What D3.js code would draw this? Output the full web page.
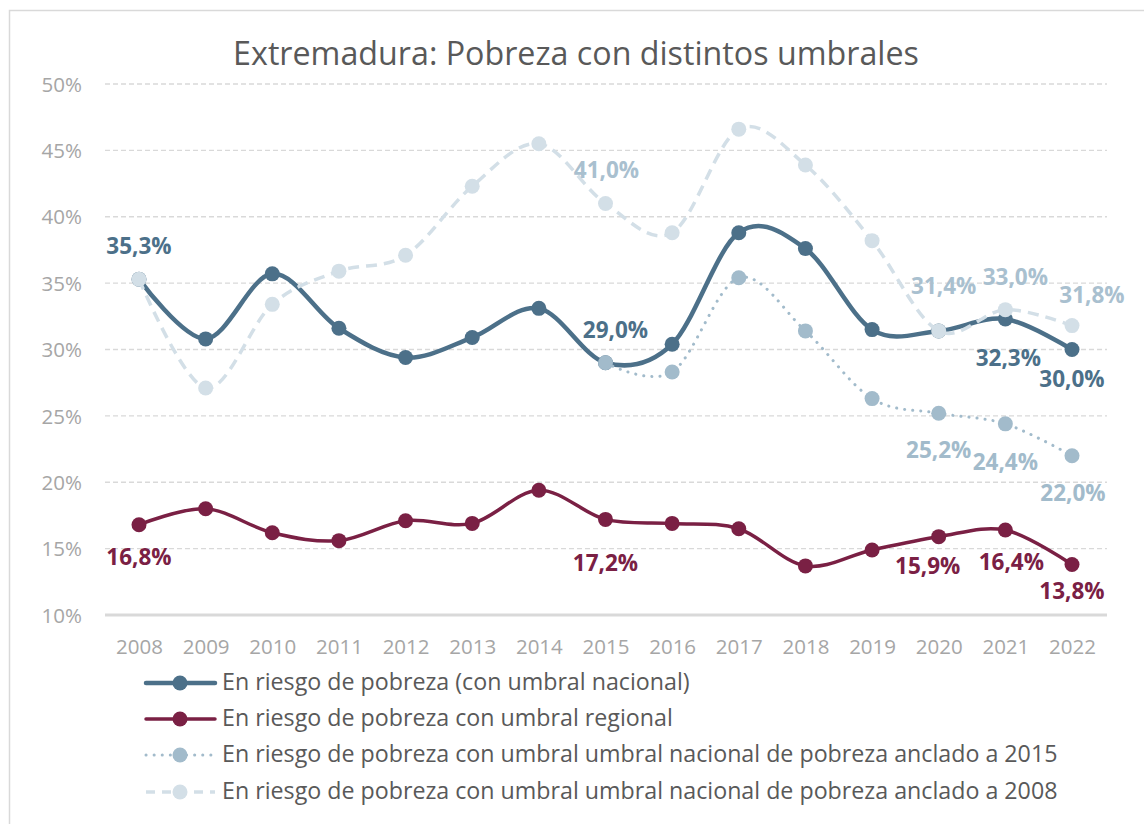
<!DOCTYPE html>
<html><head><meta charset="utf-8">
<script src="https://cdn.jsdelivr.net/npm/d3@7"></script>
<style>
html,body{margin:0;padding:0;background:#fff;}
svg{display:block;font-family:"Open Sans",sans-serif;}
</style></head>
<body>
<svg id="chart" width="1144" height="824"></svg>
<script>
// ---------- DATA ----------
const title = "Extremadura: Pobreza con distintos umbrales";
const years = [2008,2009,2010,2011,2012,2013,2014,2015,2016,2017,2018,2019,2020,2021,2022];
const yTicks = [10,15,20,25,30,35,40,45,50];
const nacional   = [35.3,30.8,35.7,31.6,29.4,30.9,33.1,29.0,30.4,38.8,37.6,31.5,31.4,32.3,30.0];
const regional   = [16.8,18.0,16.2,15.6,17.1,16.9,19.4,17.2,16.9,16.5,13.7,14.9,15.9,16.4,13.8];
const anclado2015= [null,null,null,null,null,null,null,29.0,28.3,35.4,31.4,26.3,25.2,24.4,22.0];
const anclado2008= [35.3,27.1,33.4,35.9,37.1,42.3,45.5,41.0,38.8,46.6,43.9,38.2,31.4,33.0,31.8];
const seriesNames = [
  "En riesgo de pobreza (con umbral nacional)",
  "En riesgo de pobreza con umbral regional",
  "En riesgo de pobreza con umbral umbral nacional de pobreza anclado a 2015",
  "En riesgo de pobreza con umbral umbral nacional de pobreza anclado a 2008"
];
// which points carry a data label
const labelYears = [
  [2008,2015,2021,2022],
  [2008,2015,2020,2021,2022],
  [2020,2021,2022],
  [2015,2020,2021,2022]
];

// ---------- STYLE / LAYOUT ----------
const colors = ["#4C7089","#7A2044","#A2BBCB","#D3DFE7"];
const labelColors = ["#4C7089","#7A2044","#A2BBCB","#A9C0CF"];
const widths = [4.5,3.5,3,3.5];
const dashes = [null,null,"0.1 8","11 7"];
const caps = ["round","round","round","butt"];
// label offsets per series, keyed by year: [dx, dy(baseline)]
const labelOffsets = [
  {2008:[0,-25],2015:[10,-25],2021:[3,47],2022:[0,37]},
  {2008:[0,40],2015:[0,52],2020:[-11,37],2021:[6,40],2022:[0,34]},
  {2020:[0,45],2021:[0,46],2022:[1,45]},
  {2015:[1,-25],2020:[5,-37],2021:[10,-25],2022:[20,-23]}
];

const svg = d3.select("#chart");
// frame
svg.append("rect").attr("x",9.5).attr("y",10.5).attr("width",1200).attr("height",900)
  .attr("fill","none").attr("stroke","#D9D9D9").attr("stroke-width",1.5);

const x = d3.scalePoint().domain(years).range([139,1072]);
const y = d3.scaleLinear().domain([10,50]).range([615,84]);
const gridX0 = 105, gridX1 = 1107;

function fit(sel, target){
  const w = sel.node().getComputedTextLength();
  const fs = parseFloat(sel.attr("font-size"));
  sel.attr("font-size", fs*target/w);
}

// title
const t = svg.append("text").attr("x",576).attr("y",65).attr("text-anchor","middle")
  .attr("font-size",30).attr("fill","#595959").text(title);
fit(t, 686);

// gridlines
svg.append("g").selectAll("line").data(yTicks.filter(v=>v>10)).join("line")
  .attr("x1",gridX0).attr("x2",gridX1).attr("y1",d=>y(d)).attr("y2",d=>y(d))
  .attr("stroke","#D9D9D9").attr("stroke-width",1.3).attr("stroke-dasharray","5 3");
// base axis line
svg.append("line").attr("x1",gridX0).attr("x2",gridX1).attr("y1",y(10)).attr("y2",y(10))
  .attr("stroke","#D9D9D9").attr("stroke-width",3);

// y axis
const yAxis = d3.axisLeft(y).tickValues(yTicks).tickFormat(d=>d+"%").tickSize(0).tickPadding(0);
const gy = svg.append("g").attr("transform","translate(82,0)").call(yAxis);
gy.select(".domain").remove();
gy.selectAll("text").attr("font-size",20.5).attr("fill","#A6A6A6").attr("font-family","Open Sans").attr("dy","0.35em");

// x axis
const xAxis = d3.axisBottom(x).tickSize(0).tickPadding(0);
const gx = svg.append("g").attr("transform","translate(0,639)").call(xAxis);
gx.select(".domain").remove();
gx.selectAll("text").attr("font-size",20.5).attr("fill","#A6A6A6").attr("font-family","Open Sans").attr("dy","0.71em");

const allSeries = [nacional, regional, anclado2015, anclado2008];
const line = d3.line().defined(d=>d[1]!=null).x(d=>x(d[0])).y(d=>y(d[1])).curve(d3.curveCatmullRom.alpha(0));

allSeries.forEach((s,i)=>{
  const pts = years.map((yr,j)=>[yr,s[j]]);
  const g = svg.append("g");
  g.append("path").datum(pts).attr("d",line).attr("fill","none")
    .attr("stroke",colors[i]).attr("stroke-width",widths[i])
    .attr("stroke-dasharray",dashes[i]).attr("stroke-linecap",caps[i]);
  g.selectAll("circle").data(pts.filter(d=>d[1]!=null)).join("circle")
    .attr("cx",d=>x(d[0])).attr("cy",d=>y(d[1])).attr("r",7.5)
    .attr("fill",colors[i]);
});

// data labels
allSeries.forEach((s,i)=>{
  labelYears[i].forEach(yr=>{
    const j = years.indexOf(yr);
    const off = labelOffsets[i][yr];
    svg.append("text").attr("x",x(yr)+off[0]).attr("y",y(s[j])+off[1])
      .attr("text-anchor","middle").attr("font-size",22.5).attr("font-weight",700)
      .attr("fill",labelColors[i]).text(d3.format(".1f")(s[j]).replace(".",",")+"%");
  });
});

// legend
const legY = [683,719,755,792];
const lg = svg.append("g");
seriesNames.forEach((n,i)=>{
  lg.append("line").attr("x1",146).attr("x2",215).attr("y1",legY[i]).attr("y2",legY[i])
    .attr("stroke",colors[i]).attr("stroke-width",widths[i])
    .attr("stroke-dasharray",i===2?"0.1 8":(i===3?"9 7":null)).attr("stroke-linecap",caps[i]);
  lg.append("circle").attr("cx",180).attr("cy",legY[i]).attr("r",7.5).attr("fill",colors[i]);
  const tx = lg.append("text").attr("x",222).attr("y",legY[i]+7).attr("font-size",20)
    .attr("fill","#595959").text(n);
  if(i===0) fit(tx,468);
});
const fs0 = lg.select("text").attr("font-size");
lg.selectAll("text").attr("font-size",fs0);
</script>
</body></html>
